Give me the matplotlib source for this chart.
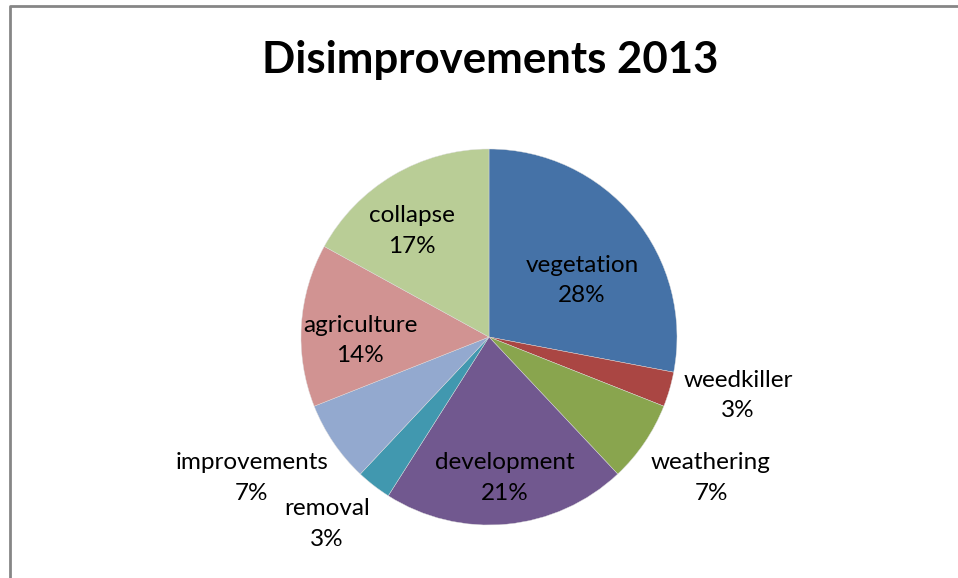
import matplotlib
matplotlib.use("Agg")
import matplotlib.pyplot as plt
from matplotlib.lines import Line2D

categories = ["vegetation", "weedkiller", "weathering", "development",
              "removal", "improvements", "agriculture", "collapse"]
values = [28, 3, 7, 21, 3, 7, 14, 17]
colors = ["#4572A7", "#AA4643", "#89A54E", "#71588F",
          "#4198AF", "#93A9CF", "#D19392", "#B9CD96"]
title = "Disimprovements 2013"

# label centres in pie-radius units (layout)
label_pos = [(0.495, 0.30), (1.324, -0.31), (1.181, -0.75), (0.085, -0.75),
             (-0.862, -0.995), (-1.261, -0.75), (-0.686, -0.02), (-0.41, 0.564)]

W, H = 958, 578
fig = plt.figure(figsize=(W / 100, H / 100), dpi=100)
fig.patch.set_facecolor("white")

# chart border (left and top visible)
bx, by = 9.5 / W, 1 - 6 / H
fig.add_artist(Line2D([bx, bx, 1.0], [0.0, by, by], transform=fig.transFigure,
                      color="#868686", linewidth=2))

cx, cy, R = 489, 337, 188
ax = fig.add_axes([(cx - R) / W, (H - cy - R) / H, 2 * R / W, 2 * R / H])
ax.pie(values, colors=colors, startangle=90, counterclock=False, radius=1,
       wedgeprops=dict(edgecolor="#dddddd", linewidth=0.3))
ax.set_xlim(-1, 1)
ax.set_ylim(-1, 1)
ax.set_aspect("equal")
ax.axis("off")

total = sum(values)
for name, v, (lx, ly) in zip(categories, values, label_pos):
    pct = f"{round(100 * v / total)}%"
    ax.text(lx, ly, f"{name}\n{pct}", ha="center", va="center",
            fontsize=17.5, family="Lato", color="#000000",
            linespacing=1.55, clip_on=False)

fig.text(490 / W, 1 - 60 / H, title, ha="center", va="center",
         fontsize=31.5, fontweight="bold", family="Lato")

fig.savefig("out.png", dpi=100)
